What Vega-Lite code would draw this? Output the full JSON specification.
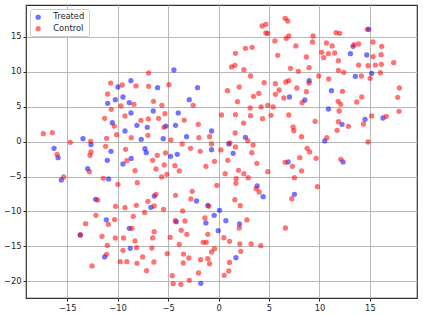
{"$schema":"https://vega.github.io/schema/vega-lite/v6.json","width":391,"height":293,"autosize":{"type":"none"},"padding":{"left":26,"top":5,"right":6,"bottom":18},"background":"white","view":{"stroke":"#333333","strokeWidth":1.2},
"data":{"values":[
{"x":-4.42,"y":10.27,"group":"Treated"},{"x":-8.68,"y":8.74,"group":"Treated"},{"x":-9.97,"y":7.83,"group":"Treated"},{"x":-6.04,"y":7.74,"group":"Treated"},{"x":-2.08,"y":7.74,"group":"Treated"},{"x":-10.23,"y":6.02,"group":"Treated"},{"x":-9.47,"y":6.4,"group":"Treated"},{"x":-10.99,"y":5.49,"group":"Treated"},{"x":-8.84,"y":5.59,"group":"Treated"},{"x":-2.9,"y":6.02,"group":"Treated"},{"x":-8.68,"y":4.11,"group":"Treated"},{"x":-6.47,"y":4.39,"group":"Treated"},{"x":-3.99,"y":4.11,"group":"Treated"},{"x":-10.53,"y":2.72,"group":"Treated"},{"x":-8.09,"y":2.34,"group":"Treated"},{"x":-7.06,"y":2.05,"group":"Treated"},{"x":-5.21,"y":2.24,"group":"Treated"},{"x":-4.26,"y":2.34,"group":"Treated"},{"x":-9.27,"y":1.53,"group":"Treated"},{"x":-0.69,"y":1.53,"group":"Treated"},{"x":-13.43,"y":0.43,"group":"Treated"},{"x":-7.66,"y":0.33,"group":"Treated"},{"x":-5.48,"y":0.43,"group":"Treated"},{"x":-3.17,"y":0.72,"group":"Treated"},{"x":-12.64,"y":-0.43,"group":"Treated"},{"x":-16.3,"y":-0.96,"group":"Treated"},{"x":-15.9,"y":-2.3,"group":"Treated"},{"x":-10.66,"y":-1.38,"group":"Treated"},{"x":-7.29,"y":-1,"group":"Treated"},{"x":-7.16,"y":-1.58,"group":"Treated"},{"x":-8.65,"y":-2.4,"group":"Treated"},{"x":-4.75,"y":-2.1,"group":"Treated"},{"x":-4.09,"y":-1.81,"group":"Treated"},{"x":-0.69,"y":-1.15,"group":"Treated"},{"x":-12.97,"y":-3.87,"group":"Treated"},{"x":-11.02,"y":-2.67,"group":"Treated"},{"x":-9.47,"y":-3.2,"group":"Treated"},{"x":-15.58,"y":-5.49,"group":"Treated"},{"x":-10.89,"y":-5.35,"group":"Treated"},{"x":-12.18,"y":-8.26,"group":"Treated"},{"x":-6.37,"y":-7.79,"group":"Treated"},{"x":-6.7,"y":-9.41,"group":"Treated"},{"x":-2.18,"y":-8.5,"group":"Treated"},{"x":-1.06,"y":-9.12,"group":"Treated"},{"x":-11.12,"y":-11.2,"group":"Treated"},{"x":-8.84,"y":-12.42,"group":"Treated"},{"x":-4.19,"y":-11.46,"group":"Treated"},{"x":-1.25,"y":-11.65,"group":"Treated"},{"x":-13.7,"y":-13.37,"group":"Treated"},{"x":-8.75,"y":-15.28,"group":"Treated"},{"x":-11.29,"y":-16.52,"group":"Treated"},{"x":-1.75,"y":-20.3,"group":"Treated"},{"x":6.9,"y":-2.91,"group":"Treated"},{"x":12.34,"y":-2.91,"group":"Treated"},{"x":3.83,"y":-6.35,"group":"Treated"},{"x":7.52,"y":-7.55,"group":"Treated"},{"x":4.42,"y":-7.88,"group":"Treated"},{"x":0.1,"y":-9.84,"group":"Treated"},{"x":-0.43,"y":-10.55,"group":"Treated"},{"x":0.73,"y":-11.32,"group":"Treated"},{"x":2.08,"y":-11.8,"group":"Treated"},{"x":-0.03,"y":-12.75,"group":"Treated"},{"x":1.72,"y":-16.62,"group":"Treated"},{"x":14.88,"y":16.09,"group":"Treated"},{"x":13.33,"y":13.66,"group":"Treated"},{"x":13.07,"y":12.61,"group":"Treated"},{"x":14.69,"y":12.42,"group":"Treated"},{"x":15.18,"y":9.79,"group":"Treated"},{"x":13.56,"y":9.36,"group":"Treated"},{"x":8.98,"y":8.74,"group":"Treated"},{"x":11.19,"y":7.31,"group":"Treated"},{"x":7.03,"y":6.4,"group":"Treated"},{"x":8.55,"y":5.97,"group":"Treated"},{"x":10.89,"y":4.68,"group":"Treated"},{"x":14.52,"y":3.2,"group":"Treated"},{"x":16.3,"y":3.39,"group":"Treated"},{"x":12.24,"y":2.48,"group":"Treated"},{"x":2.67,"y":0.62,"group":"Treated"},{"x":10.53,"y":0.1,"group":"Treated"},{"x":1.02,"y":-0.33,"group":"Treated"},{"x":1.45,"y":-1.67,"group":"Treated"},
{"x":-6.93,"y":9.84,"group":"Control"},{"x":-10.69,"y":8.4,"group":"Control"},{"x":-9.54,"y":8.12,"group":"Control"},{"x":-8.18,"y":7.98,"group":"Control"},{"x":-6.93,"y":7.93,"group":"Control"},{"x":-4.92,"y":8.17,"group":"Control"},{"x":-10.99,"y":6.83,"group":"Control"},{"x":-6.44,"y":5.78,"group":"Control"},{"x":-9.67,"y":5.11,"group":"Control"},{"x":-8.38,"y":5.35,"group":"Control"},{"x":-5.61,"y":5.21,"group":"Control"},{"x":-2.51,"y":5.21,"group":"Control"},{"x":-10.63,"y":4.63,"group":"Control"},{"x":-9.27,"y":3.68,"group":"Control"},{"x":-5.31,"y":4.01,"group":"Control"},{"x":-11.29,"y":3.34,"group":"Control"},{"x":-7.69,"y":3.06,"group":"Control"},{"x":-6.96,"y":3.25,"group":"Control"},{"x":-5.94,"y":3.34,"group":"Control"},{"x":-3.4,"y":3.1,"group":"Control"},{"x":-10.33,"y":2.24,"group":"Control"},{"x":-5.41,"y":2.05,"group":"Control"},{"x":-2.01,"y":2.48,"group":"Control"},{"x":-17.36,"y":1.15,"group":"Control"},{"x":-16.47,"y":1.29,"group":"Control"},{"x":-10.1,"y":1,"group":"Control"},{"x":-8.65,"y":0.57,"group":"Control"},{"x":-7,"y":0.91,"group":"Control"},{"x":-11.09,"y":0.48,"group":"Control"},{"x":-4.72,"y":0.24,"group":"Control"},{"x":-1.95,"y":0.57,"group":"Control"},{"x":-0.89,"y":0.72,"group":"Control"},{"x":-14.69,"y":-0.1,"group":"Control"},{"x":-12.67,"y":0.05,"group":"Control"},{"x":-3.6,"y":-0.33,"group":"Control"},{"x":-0.69,"y":-0.33,"group":"Control"},{"x":-11.19,"y":-0.67,"group":"Control"},{"x":-9.21,"y":-1.1,"group":"Control"},{"x":-2.77,"y":-0.96,"group":"Control"},{"x":-12.64,"y":-1.48,"group":"Control"},{"x":-1.82,"y":-1.38,"group":"Control"},{"x":-16,"y":-1.81,"group":"Control"},{"x":-12.74,"y":-1.96,"group":"Control"},{"x":-6.07,"y":-1.96,"group":"Control"},{"x":-5.25,"y":-1.62,"group":"Control"},{"x":-9.08,"y":-2.72,"group":"Control"},{"x":-6.53,"y":-2.67,"group":"Control"},{"x":-5.38,"y":-3.34,"group":"Control"},{"x":-4.32,"y":-3.44,"group":"Control"},{"x":-1.25,"y":-3.53,"group":"Control"},{"x":-6.2,"y":-3.92,"group":"Control"},{"x":-8.28,"y":-4.16,"group":"Control"},{"x":-3.89,"y":-4.2,"group":"Control"},{"x":-12.8,"y":-4.3,"group":"Control"},{"x":-5.12,"y":-4.68,"group":"Control"},{"x":-15.35,"y":-5.06,"group":"Control"},{"x":-11.42,"y":-5.25,"group":"Control"},{"x":-5.64,"y":-5.06,"group":"Control"},{"x":-8.05,"y":-5.88,"group":"Control"},{"x":-9.97,"y":-6.11,"group":"Control"},{"x":-2.61,"y":-7.11,"group":"Control"},{"x":-6.2,"y":-7.54,"group":"Control"},{"x":-4.26,"y":-7.69,"group":"Control"},{"x":-2.74,"y":-8.21,"group":"Control"},{"x":-11.98,"y":-8.36,"group":"Control"},{"x":-7,"y":-8.55,"group":"Control"},{"x":-10.2,"y":-9.26,"group":"Control"},{"x":-8.15,"y":-9.12,"group":"Control"},{"x":-9.27,"y":-9.46,"group":"Control"},{"x":-6.37,"y":-9.22,"group":"Control"},{"x":-0.96,"y":-9.27,"group":"Control"},{"x":-5.45,"y":-9.69,"group":"Control"},{"x":-7.33,"y":-10.14,"group":"Control"},{"x":-3.56,"y":-9.93,"group":"Control"},{"x":-12.15,"y":-10.56,"group":"Control"},{"x":-8.45,"y":-10.7,"group":"Control"},{"x":-1.35,"y":-10.94,"group":"Control"},{"x":-10.3,"y":-11.17,"group":"Control"},{"x":-4.29,"y":-11.32,"group":"Control"},{"x":-3.33,"y":-11.37,"group":"Control"},{"x":-13.17,"y":-11.75,"group":"Control"},{"x":-10.92,"y":-11.84,"group":"Control"},{"x":-8.58,"y":-12.42,"group":"Control"},{"x":-3.7,"y":-12.7,"group":"Control"},{"x":-6.37,"y":-12.9,"group":"Control"},{"x":-3.14,"y":-13.28,"group":"Control"},{"x":-1.06,"y":-13.28,"group":"Control"},{"x":-13.7,"y":-13.37,"group":"Control"},{"x":-11.55,"y":-13.56,"group":"Control"},{"x":-10.23,"y":-13.8,"group":"Control"},{"x":-9.41,"y":-13.8,"group":"Control"},{"x":-6.53,"y":-13.8,"group":"Control"},{"x":-4.79,"y":-13.71,"group":"Control"},{"x":-8.28,"y":-14.23,"group":"Control"},{"x":-1.52,"y":-14.42,"group":"Control"},{"x":-1.22,"y":-14.42,"group":"Control"},{"x":-3.89,"y":-14.71,"group":"Control"},{"x":-11.02,"y":-14.85,"group":"Control"},{"x":-6.6,"y":-15.24,"group":"Control"},{"x":-8.12,"y":-15.19,"group":"Control"},{"x":-9.47,"y":-15.57,"group":"Control"},{"x":-0.69,"y":-15.81,"group":"Control"},{"x":-11.09,"y":-16.14,"group":"Control"},{"x":-5.08,"y":-16.05,"group":"Control"},{"x":-3.47,"y":-16.1,"group":"Control"},{"x":-7.52,"y":-16.52,"group":"Control"},{"x":-2.94,"y":-16.67,"group":"Control"},{"x":-1.06,"y":-16.76,"group":"Control"},{"x":-1.78,"y":-16.91,"group":"Control"},{"x":-9.74,"y":-17.19,"group":"Control"},{"x":-9.08,"y":-17.19,"group":"Control"},{"x":-6.4,"y":-17.24,"group":"Control"},{"x":-3.5,"y":-17.38,"group":"Control"},{"x":-0.89,"y":-17.48,"group":"Control"},{"x":-8.09,"y":-17.43,"group":"Control"},{"x":-12.54,"y":-17.81,"group":"Control"},{"x":-7.13,"y":-18.48,"group":"Control"},{"x":-1.98,"y":-18.82,"group":"Control"},{"x":-4.59,"y":-19.2,"group":"Control"},{"x":-2.9,"y":-19.87,"group":"Control"},{"x":-4.49,"y":-20.35,"group":"Control"},{"x":-3.73,"y":-20.44,"group":"Control"},{"x":-0.4,"y":-2.82,"group":"Control"},{"x":0.92,"y":-2.67,"group":"Control"},{"x":3.8,"y":-3.11,"group":"Control"},{"x":6.6,"y":-2.96,"group":"Control"},{"x":8.05,"y":-2.29,"group":"Control"},{"x":9.67,"y":-2.39,"group":"Control"},{"x":12.11,"y":-2.53,"group":"Control"},{"x":7.33,"y":-3.53,"group":"Control"},{"x":1.98,"y":-4.11,"group":"Control"},{"x":0.66,"y":-4.58,"group":"Control"},{"x":2.51,"y":-4.58,"group":"Control"},{"x":4.88,"y":-4.3,"group":"Control"},{"x":8.22,"y":-4.2,"group":"Control"},{"x":2.94,"y":-5.16,"group":"Control"},{"x":1.75,"y":-5.3,"group":"Control"},{"x":7.52,"y":-5.16,"group":"Control"},{"x":1.72,"y":-5.97,"group":"Control"},{"x":-0.17,"y":-6.26,"group":"Control"},{"x":9.8,"y":-6.45,"group":"Control"},{"x":3.73,"y":-6.73,"group":"Control"},{"x":4.03,"y":-7.21,"group":"Control"},{"x":7.26,"y":-8.17,"group":"Control"},{"x":1.62,"y":-8.31,"group":"Control"},{"x":2.15,"y":-9.17,"group":"Control"},{"x":2.81,"y":-11.22,"group":"Control"},{"x":2.05,"y":-12.37,"group":"Control"},{"x":6.63,"y":-12.37,"group":"Control"},{"x":0.53,"y":-13.75,"group":"Control"},{"x":1.09,"y":-14.28,"group":"Control"},{"x":2.11,"y":-14.66,"group":"Control"},{"x":3.23,"y":-14.66,"group":"Control"},{"x":4.19,"y":-14.9,"group":"Control"},{"x":-0.4,"y":-15.33,"group":"Control"},{"x":2.21,"y":-15.71,"group":"Control"},{"x":1.09,"y":-17.3,"group":"Control"},{"x":1.02,"y":-18.53,"group":"Control"},{"x":0.56,"y":-19.15,"group":"Control"},{"x":6.6,"y":17.67,"group":"Control"},{"x":6.86,"y":17.29,"group":"Control"},{"x":4.69,"y":16.81,"group":"Control"},{"x":4.32,"y":16.57,"group":"Control"},{"x":14.75,"y":16.09,"group":"Control"},{"x":4.69,"y":15.57,"group":"Control"},{"x":4.88,"y":15.52,"group":"Control"},{"x":11.65,"y":15.62,"group":"Control"},{"x":12.01,"y":15.52,"group":"Control"},{"x":9.37,"y":15.14,"group":"Control"},{"x":6.96,"y":15.14,"group":"Control"},{"x":6.7,"y":14.8,"group":"Control"},{"x":5.58,"y":14.42,"group":"Control"},{"x":9.31,"y":14.28,"group":"Control"},{"x":15.31,"y":14.28,"group":"Control"},{"x":10.69,"y":14.14,"group":"Control"},{"x":7.66,"y":13.71,"group":"Control"},{"x":11.25,"y":13.71,"group":"Control"},{"x":13.89,"y":13.99,"group":"Control"},{"x":13.43,"y":13.9,"group":"Control"},{"x":16.17,"y":13.66,"group":"Control"},{"x":3.33,"y":13.51,"group":"Control"},{"x":2.67,"y":13.37,"group":"Control"},{"x":1.68,"y":12.66,"group":"Control"},{"x":10.23,"y":12.8,"group":"Control"},{"x":10.89,"y":12.61,"group":"Control"},{"x":11.52,"y":12.7,"group":"Control"},{"x":16.11,"y":12.46,"group":"Control"},{"x":5.87,"y":12.37,"group":"Control"},{"x":8.71,"y":12.13,"group":"Control"},{"x":10.43,"y":12.03,"group":"Control"},{"x":15.31,"y":12.18,"group":"Control"},{"x":11.88,"y":11.6,"group":"Control"},{"x":17.36,"y":11.32,"group":"Control"},{"x":13.89,"y":10.98,"group":"Control"},{"x":14.82,"y":10.89,"group":"Control"},{"x":15.54,"y":10.98,"group":"Control"},{"x":16.14,"y":11.08,"group":"Control"},{"x":1.29,"y":10.7,"group":"Control"},{"x":1.62,"y":10.94,"group":"Control"},{"x":7.13,"y":10.51,"group":"Control"},{"x":8.98,"y":10.6,"group":"Control"},{"x":2.51,"y":10.32,"group":"Control"},{"x":7.92,"y":10.08,"group":"Control"},{"x":11.88,"y":10.22,"group":"Control"},{"x":12.41,"y":9.93,"group":"Control"},{"x":16.04,"y":9.89,"group":"Control"},{"x":3.17,"y":9.41,"group":"Control"},{"x":9.93,"y":9.41,"group":"Control"},{"x":14.16,"y":9.41,"group":"Control"},{"x":15.02,"y":9.07,"group":"Control"},{"x":10.92,"y":8.98,"group":"Control"},{"x":6.96,"y":8.74,"group":"Control"},{"x":6.67,"y":8.55,"group":"Control"},{"x":4.52,"y":8.45,"group":"Control"},{"x":5.64,"y":8.31,"group":"Control"},{"x":8.98,"y":8.4,"group":"Control"},{"x":2.05,"y":7.83,"group":"Control"},{"x":7.76,"y":7.69,"group":"Control"},{"x":17.92,"y":7.69,"group":"Control"},{"x":0.89,"y":7.31,"group":"Control"},{"x":6.01,"y":7.4,"group":"Control"},{"x":8.71,"y":7.16,"group":"Control"},{"x":12.28,"y":7.21,"group":"Control"},{"x":3.99,"y":6.92,"group":"Control"},{"x":5.64,"y":6.78,"group":"Control"},{"x":3.47,"y":6.49,"group":"Control"},{"x":6.47,"y":6.26,"group":"Control"},{"x":14.19,"y":6.4,"group":"Control"},{"x":17.76,"y":6.35,"group":"Control"},{"x":1.88,"y":5.73,"group":"Control"},{"x":11.85,"y":5.78,"group":"Control"},{"x":13.7,"y":5.68,"group":"Control"},{"x":8.28,"y":5.59,"group":"Control"},{"x":12.11,"y":5.35,"group":"Control"},{"x":4.88,"y":5.21,"group":"Control"},{"x":4.22,"y":4.97,"group":"Control"},{"x":5.41,"y":4.97,"group":"Control"},{"x":3.14,"y":4.82,"group":"Control"},{"x":11.95,"y":4.39,"group":"Control"},{"x":17.89,"y":4.35,"group":"Control"},{"x":0.3,"y":3.82,"group":"Control"},{"x":1.68,"y":3.87,"group":"Control"},{"x":3.17,"y":3.73,"group":"Control"},{"x":5.21,"y":3.77,"group":"Control"},{"x":6.96,"y":3.82,"group":"Control"},{"x":15.18,"y":3.68,"group":"Control"},{"x":16.63,"y":3.63,"group":"Control"},{"x":4.36,"y":3.3,"group":"Control"},{"x":9.57,"y":2.91,"group":"Control"},{"x":11.88,"y":2.87,"group":"Control"},{"x":2.48,"y":2.67,"group":"Control"},{"x":14.36,"y":2.53,"group":"Control"},{"x":12.87,"y":2.2,"group":"Control"},{"x":7.39,"y":2.1,"group":"Control"},{"x":7.46,"y":1.58,"group":"Control"},{"x":11.75,"y":1.62,"group":"Control"},{"x":1.65,"y":1.24,"group":"Control"},{"x":8.22,"y":0.72,"group":"Control"},{"x":2.9,"y":0.14,"group":"Control"},{"x":10.73,"y":0.57,"group":"Control"},{"x":14.82,"y":-0.05,"group":"Control"},{"x":1.12,"y":-0.19,"group":"Control"},{"x":3.43,"y":-0.48,"group":"Control"},{"x":1.68,"y":-0.76,"group":"Control"},{"x":8.78,"y":-0.96,"group":"Control"},{"x":0.23,"y":-1.19,"group":"Control"},{"x":9.04,"y":-1.48,"group":"Control"},{"x":3.3,"y":-1.58,"group":"Control"}
]},
"mark":{"type":"point","filled":true,"size":28,"opacity":0.55,"strokeWidth":0},
"encoding":{"x":{"field":"x","type":"quantitative","scale":{"domain":[-19.08,19.67],"nice":false,"zero":false},"axis":{"values":[-15,-10,-5,0,5,10,15],"title":null,"grid":true,"gridColor":"#b8b8b8","gridWidth":1,"gridOpacity":1,"labelFontSize":8.3,"labelFont":"DejaVu Sans","labelColor":"#262626","tickColor":"#262626","tickSize":3,"domain":false,"labelPadding":2}},
"y":{"field":"y","type":"quantitative","scale":{"domain":[-22.4,19.58],"nice":false,"zero":false},"axis":{"values":[-20,-15,-10,-5,0,5,10,15],"title":null,"grid":true,"gridColor":"#b8b8b8","gridWidth":1,"gridOpacity":1,"labelFontSize":8.3,"labelFont":"DejaVu Sans","labelColor":"#262626","tickColor":"#262626","tickSize":3,"domain":false,"labelPadding":2}},
"color":{"field":"group","type":"nominal","scale":{"domain":["Treated","Control"],"range":["#0000ff","#ff0000"]},"legend":{"title":null,"orient":"none","legendX":4,"legendY":4,"fillColor":"white","strokeColor":"#cccccc","padding":4,"labelFontSize":8.3,"labelFont":"DejaVu Sans","labelColor":"#262626","symbolSize":28,"symbolOpacity":0.55,"rowPadding":2.5,"labelOffset":11,"cornerRadius":2}}}}
